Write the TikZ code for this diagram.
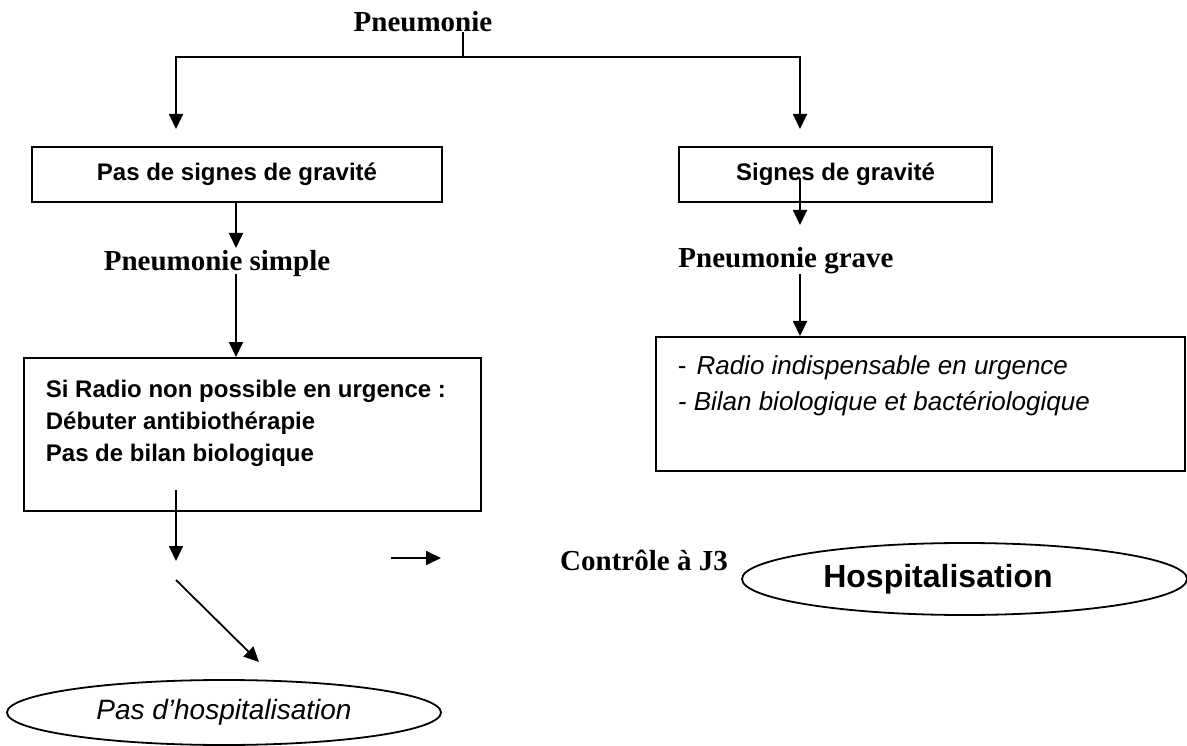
\documentclass[tikz,border=0pt]{standalone}
\usepackage{fontspec}
\setmainfont{Liberation Serif}
\newfontfamily\arialf{Liberation Sans}
\usetikzlibrary{arrows.meta,shapes.geometric}
\tikzset{
  conn/.style={line width=1.8pt,-{Triangle[length=15pt,width=14pt]}},
  plain/.style={line width=1.8pt},
  boxn/.style={draw,line width=1.8pt,rectangle,inner sep=0pt},
  ovaln/.style={draw,line width=1.8pt,ellipse,inner sep=0pt},
  serifb/.style={font=\fontsize{29}{34}\selectfont\bfseries,inner sep=0pt},
}
\begin{document}
\begin{tikzpicture}[x=1pt,y=-1pt]
\useasboundingbox (0,0) rectangle (1187,746);
% title
\node[serifb] (title) at (423,22) {Pneumonie};
\coordinate (hub) at (463,57);
\coordinate (tipL) at (176,129);
\coordinate (tipR) at (800,129);
\draw[plain] (title.south -| hub) -- (hub);
\draw[conn] (hub) -| (tipL);
\draw[conn] (hub) -| (tipR);
% boxes row 1
\node[boxn,minimum width=410pt,minimum height=55pt,font=\arialf\bfseries\fontsize{24}{28}\selectfont] (b1) at (237,174.5) {Pas de signes de gravit\'e};
\node[boxn,minimum width=313pt,minimum height=55pt,font=\arialf\bfseries\fontsize{24}{28}\selectfont] (b2) at (835.5,174.5) {Signes de gravit\'e};
% middle labels
\node[serifb] (simple) at (217,264) {Pneumonie simple};
\node[serifb] (grave) at (786,261) {Pneumonie grave};
\coordinate (t1) at (236,248);
\coordinate (t2) at (800,225);
\coordinate (s2) at (800,178);
\draw[conn] (b1.south -| t1) -- (t1);
\draw[conn] (s2) -- (t2);
% lower boxes
\node[boxn,anchor=north west,inner xsep=22pt,inner ysep=0pt,align=left,font=\arialf\bfseries\fontsize{24}{32}\selectfont] (b3) at (23,357)
  {\parbox[c][153pt][t]{413pt}{\rule{0pt}{39.6pt}Si Radio non possible en urgence :\\ D\'ebuter antibioth\'erapie\\ Pas de bilan biologique}};
\node[boxn,anchor=north west,inner xsep=22pt,inner ysep=0pt,align=left,font=\arialf\fontsize{26}{36}\selectfont] (b4) at (655,336)
  {\parbox[c][134pt][t]{485pt}{\rule{0pt}{38pt}-\hspace{10pt}\itshape Radio indispensable en urgence\\ - Bilan biologique et bact\'eriologique}};
\coordinate (u1) at (236,274);
\coordinate (u2) at (800,274);
\draw[conn] (u1) -- (b3.north -| u1);
\draw[conn] (u2) -- (b4.north -| u2);
% bottom part
\coordinate (d0) at (176,490);
\coordinate (d1) at (176,561);
\draw[conn] (d0) -- (d1);
\coordinate (h0) at (391,558);
\coordinate (h1) at (441,558);
\draw[conn] (h0) -- (h1);
\coordinate (g0) at (176,580);
\coordinate (g1) at (259,662);
\draw[conn] (g0) -- (g1);
\node[serifb] (ctrl) at (644,560) {Contr\^ole \`a J3};
\node[ovaln,minimum width=445pt,minimum height=72pt,font=\arialf\bfseries\fontsize{32}{36}\selectfont] (hosp) at (964.5,579) {Hospitalisation\hspace*{53pt}};
\node[ovaln,minimum width=434pt,minimum height=65pt,font=\arialf\itshape\fontsize{28}{32}\selectfont] (nohosp) at (224,712.5) {Pas d’hospitalisation};
\end{tikzpicture}
\end{document}
